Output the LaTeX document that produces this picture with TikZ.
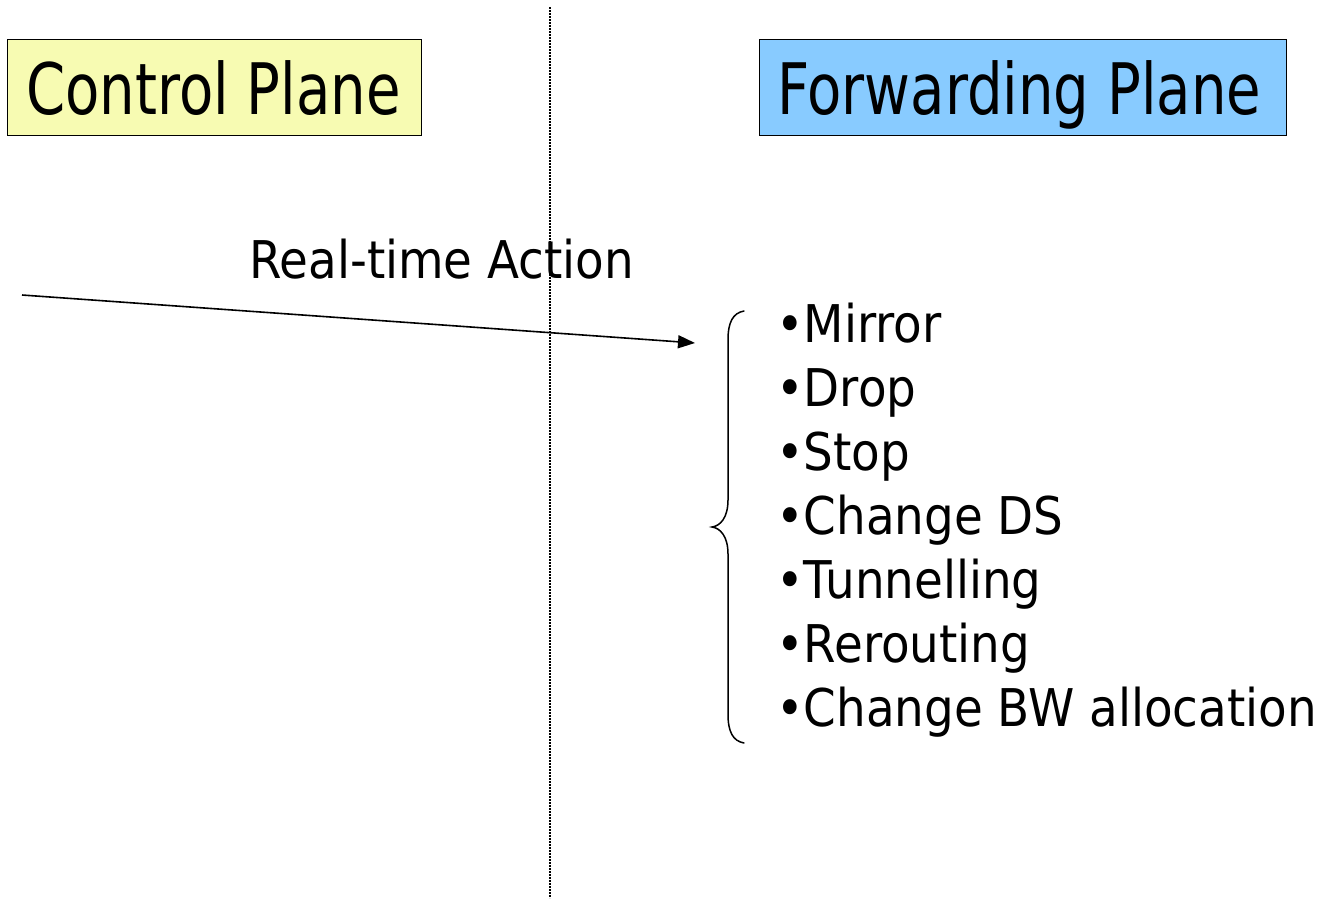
\documentclass[tikz,border=0pt]{standalone}
\usepackage{fontspec}
\setmainfont{DejaVu Sans}[FakeStretch=0.9]
\newfontfamily\titlefont{DejaVu Sans}[FakeStretch=0.79]
\usetikzlibrary{arrows.meta}
\definecolor{ctrlfill}{RGB}{247,251,178}
\definecolor{fwdfill}{RGB}{136,203,255}
\tikzset{
  planebox/.style={draw=black, line width=1.4pt, minimum height=96pt, inner sep=0pt},
  title/.style={font=\titlefont\fontsize{71}{71}\selectfont, inner sep=0pt, anchor=base west},
  label/.style={font=\fontsize{52}{52}\selectfont, inner sep=0pt, anchor=base west},
  divider/.style={line width=1.3pt, dash pattern=on 1.6pt off 1.4pt},
  actionarrow/.style={line width=1.6pt, -{Triangle[length=17pt, width=13pt]}},
  bracepath/.style={line width=1.5pt, line cap=round}
}
\begin{document}
\begin{tikzpicture}[x=1pt, y=-1pt]
  \useasboundingbox (0,0) rectangle (1320,900);

  % plane headers
  \node[planebox, fill=ctrlfill, minimum width=414pt, anchor=north west] (ctrlbox) at (7,39) {};
  \node[title] (ctrl) at (26,114) {Control Plane};
  \node[planebox, fill=fwdfill, minimum width=527pt, anchor=north west] (fwdbox) at (759,39) {};
  \node[title] (fwd) at (777,114) {Forwarding Plane};

  % boundary between the planes
  \coordinate (divtop) at (550,7);
  \coordinate (divbot) at (550,898);
  \draw[divider] (divtop) -- (divbot);

  % real-time action arrow
  \node[label] (action) at (249,278) {Real-time Action};
  \coordinate (from) at (22,295);
  \coordinate (to) at (695,343);
  \draw[actionarrow] (from) -- (to);

  % list of actions
  \foreach \txt [count=\i from 0] in {Mirror, Drop, Stop, Change DS, Tunnelling, Rerouting, Change BW allocation}{
    \node[label] (item\i) at (776,{342+64*\i}) {•\txt};
  }

  % brace grouping the actions
  \coordinate (btop) at (744,311);
  \coordinate (btip) at (712,527);
  \coordinate (bbot) at (744,743);
  \draw[bracepath] (btop) .. controls (733,313) and (728,322) .. (728,340)
    -- (728,500) .. controls (728,518) and (720,526) .. (btip)
    .. controls (720,528) and (728,536) .. (728,554)
    -- (728,714) .. controls (728,732) and (733,741) .. (bbot);
\end{tikzpicture}
\end{document}
